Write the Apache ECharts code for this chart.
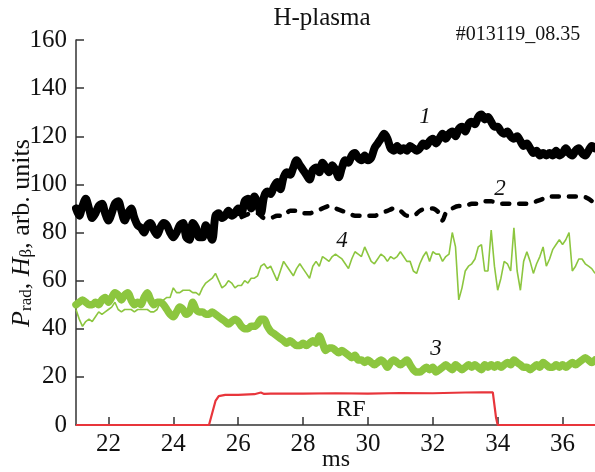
<!DOCTYPE html>
<html>
<head>
<meta charset="utf-8">
<script src="https://cdn.jsdelivr.net/npm/echarts@6/dist/echarts.min.js"></script>
<style>html,body{margin:0;padding:0;background:#fff}#c{width:595px;height:472px}</style>
</head>
<body>
<div id="c"></div>
<script>
// time samples (ms)
var t = [21.0,21.1,21.2,21.3,21.4,21.5,21.6,21.7,21.8,21.9,22.0,22.1,22.2,22.3,22.4,22.5,22.6,22.7,22.8,22.9,
23.0,23.1,23.2,23.3,23.4,23.5,23.6,23.7,23.8,23.9,24.0,24.1,24.2,24.3,24.4,24.5,24.6,24.7,24.8,24.9,
25.0,25.1,25.2,25.3,25.4,25.5,25.6,25.7,25.8,25.9,26.0,26.1,26.2,26.3,26.4,26.5,26.6,26.7,26.8,26.9,
27.0,27.1,27.2,27.3,27.4,27.5,27.6,27.7,27.8,27.9,28.0,28.1,28.2,28.3,28.4,28.5,28.6,28.7,28.8,28.9,
29.0,29.1,29.2,29.3,29.4,29.5,29.6,29.7,29.8,29.9,30.0,30.1,30.2,30.3,30.4,30.5,30.6,30.7,30.8,30.9,
31.0,31.1,31.2,31.3,31.4,31.5,31.6,31.7,31.8,31.9,32.0,32.1,32.2,32.3,32.4,32.5,32.6,32.7,32.8,32.9,
33.0,33.1,33.2,33.3,33.4,33.5,33.6,33.7,33.8,33.9,34.0,34.1,34.2,34.3,34.4,34.5,34.6,34.7,34.8,34.9,
35.0,35.1,35.2,35.3,35.4,35.5,35.6,35.7,35.8,35.9,36.0,36.1,36.2,36.3,36.4,36.5,36.6,36.7,36.8,36.9,37.0];

// curve 1 (black, thick)
var s1 = [90,87,91,94,90,86,88,91,92,88,85,88,92,93,89,85,88,90,86,83,
82,80,83,84,81,79,82,84,83,80,78,80,83,84,78,77,84,82,78,78,
83,80,77,87,88,86,87,89,87,88,90,88,93,94,90,95,92,88,95,97,
96,99,101,98,103,105,104,107,110,108,106,104,102,106,107,105,109,107,105,108,
106,103,107,110,109,112,113,111,110,112,110,111,115,117,119,121,119,115,114,116,
114,115,114,116,115,114,115,117,116,118,119,117,119,121,119,121,122,120,123,124,
122,125,126,125,128,129,127,128,126,124,124,122,121,122,120,119,120,118,116,117,
115,113,114,112,113,112,113,112,114,112,113,115,113,112,114,115,113,112,114,116,115];

// curve 2 (black, dashed)
var t2 = [25.6,25.8,26.0,26.2,26.4,26.6,26.8,27.0,27.2,27.4,27.6,27.8,28.0,28.2,28.4,28.6,28.8,29.0,29.2,29.4,
29.6,29.8,30.0,30.2,30.4,30.6,30.8,31.0,31.2,31.4,31.6,31.8,32.0,32.2,32.3,32.4,32.6,32.8,33.0,33.2,
33.4,33.6,33.8,34.0,34.2,34.4,34.6,34.8,35.0,35.2,35.4,35.6,35.8,36.0,36.2,36.4,36.6,36.8,37.0];
var s2 = [87,87,86,87,88,88,86,86,87,87,89,89,88,88,89,90,91,90,89,88,
87,87,87,87,88,89,90,89,87,87,89,90,90,88,85,88,90,91,91,92,
92,93,93,92,92,92,92,92,92,93,94,95,95,95,95,95,95,94,92];

// curve 3 (green, thick)
var s3 = [50,51,52,51,50,50,51,50,52,53,51,53,55,54,52,54,55,52,50,51,
50,53,55,52,50,51,51,50,48,46,45,47,49,48,46,47,51,48,47,47,
46,46,47,46,45,44,43,42,43,44,43,41,40,40,41,41,42,44,44,41,
39,38,37,36,35,34,35,34,33,33,34,33,34,35,34,37,34,31,32,32,
31,30,31,30,29,28,29,27,27,26,27,26,25,26,27,26,24,26,27,26,
25,26,27,25,23,22,22,23,24,23,24,22,23,24,25,24,23,25,24,23,
24,25,24,25,24,23,25,24,25,24,25,24,25,26,25,27,26,25,24,24,
23,24,25,24,26,25,24,24,25,24,25,24,25,26,25,26,27,28,27,26,27];

// curve 4 (green, thin)
var s4 = [48,44,41,43,44,43,45,47,46,47,48,49,51,48,47,48,48,48,47,48,
48,48,48,47,47,48,51,52,53,53,57,55,55,56,56,56,55,55,54,57,
59,60,61,63,60,57,58,60,59,57,58,58,60,59,61,61,62,66,67,65,
66,63,60,64,68,66,64,62,65,67,65,63,61,66,68,66,70,69,68,70,
71,70,69,67,65,69,72,71,70,74,71,68,67,69,71,70,68,70,69,70,
72,70,68,68,64,63,67,70,72,68,72,71,71,68,70,71,80,74,52,57,
64,66,67,69,74,75,64,64,81,66,56,61,68,67,64,82,64,56,68,72,
68,63,67,70,74,66,69,73,75,77,75,77,80,64,66,69,69,67,66,65,63];

// RF pulse (red)
var tRF = [21.0,25.1,25.2,25.3,25.4,25.6,26.0,26.5,26.7,26.8,27.0,28.0,29.0,30.0,31.0,32.0,33.0,33.5,33.85,33.95,34.0,37.0];
var sRF = [0,0,5,10,12,12.5,12.5,12.8,13.5,12.9,13,13,13.2,13,13.3,13.2,13.5,13.6,13.6,3,0,0];

// axis ticks
var xTicks = [22,24,26,28,30,32,34,36];
var yTicks = [0,20,40,60,80,100,120,140,160];

function pairs(xs, ys){ var out=[]; for(var i=0;i<ys.length;i++){ out.push([xs[i], ys[i]]); } return out; }

var FONT = '"Liberation Serif","Times New Roman",serif';
var GREEN = '#8cc63f';

var chart = echarts.init(document.getElementById('c'), null, {renderer:'canvas'});
chart.setOption({
  animation:false,
  backgroundColor:'#fff',
  grid:{left:76, right:0, top:40, bottom:47},
  xAxis:{
    type:'value', min:21, max:37,
    axisLine:{show:true, onZero:false, lineStyle:{color:'#333', width:1.5}},
    axisTick:{show:true, inside:true, length:8, customValues:xTicks, lineStyle:{color:'#333', width:1.5}},
    axisLabel:{customValues:xTicks, color:'#111', fontFamily:FONT, fontSize:25, margin:7},
    splitLine:{show:false}
  },
  yAxis:{
    type:'value', min:0, max:160, interval:20,
    axisLine:{show:true, lineStyle:{color:'#333', width:1.5}},
    axisTick:{show:true, inside:true, length:8, customValues:yTicks, lineStyle:{color:'#333', width:1.5}},
    axisLabel:{customValues:yTicks, color:'#111', fontFamily:FONT, fontSize:25, margin:9},
    splitLine:{show:false}
  },
  series:[
    {type:'line', name:'4', data:pairs(t, s4), showSymbol:false, symbol:'none', lineStyle:{color:GREEN, width:1.6}, z:2},
    {type:'line', name:'3', data:pairs(t, s3), showSymbol:false, symbol:'none', smooth:0.3, lineStyle:{color:GREEN, width:7.5, cap:'round', join:'round'}, z:3},
    {type:'line', name:'RF', data:pairs(tRF, sRF), showSymbol:false, symbol:'none', lineStyle:{color:'#e8353b', width:2.2}, z:3},
    {type:'line', name:'2', data:pairs(t2, s2), showSymbol:false, symbol:'none', smooth:0.3, lineStyle:{color:'#000', width:4.5, type:[7,10], cap:'round', join:'round'}, z:4},
    {type:'line', name:'1', data:pairs(t, s1), showSymbol:false, symbol:'none', smooth:0.3, lineStyle:{color:'#000', width:8, cap:'round', join:'round'}, z:5}
  ],
  graphic:[
    {type:'text', x:322, y:18, style:{text:'H-plasma', font:'25px '+FONT, fill:'#111', align:'center', verticalAlign:'middle'}},
    {type:'text', x:518, y:35, style:{text:'#013119_08.35', font:'20px '+FONT, fill:'#111', align:'center', verticalAlign:'middle'}},
    {type:'text', x:336, y:460, style:{text:'ms', font:'24px '+FONT, fill:'#111', align:'center', verticalAlign:'middle'}},
    {type:'text', x:351, y:410, style:{text:'RF', font:'24px '+FONT, fill:'#111', align:'center', verticalAlign:'middle'}},
    {type:'text', x:425, y:117, style:{text:'1', font:'italic 23px '+FONT, fill:'#111', align:'center', verticalAlign:'middle'}},
    {type:'text', x:500, y:189, style:{text:'2', font:'italic 23px '+FONT, fill:'#111', align:'center', verticalAlign:'middle'}},
    {type:'text', x:342, y:241, style:{text:'4', font:'italic 23px '+FONT, fill:'#111', align:'center', verticalAlign:'middle'}},
    {type:'text', x:436, y:349, style:{text:'3', font:'italic 23px '+FONT, fill:'#111', align:'center', verticalAlign:'middle'}},
    {type:'text', x:22, y:233, rotation:Math.PI/2, style:{
      text:'{i|P}{s|rad}{n|, }{i|H}{s|β}{n|, arb. units}',
      align:'center', verticalAlign:'middle', fill:'#111',
      rich:{
        i:{fontFamily:FONT, fontSize:26, fontStyle:'italic', lineHeight:26, fill:'#111'},
        n:{fontFamily:FONT, fontSize:26, lineHeight:26, fill:'#111'},
        s:{fontFamily:FONT, fontSize:17, lineHeight:10, verticalAlign:'bottom', fill:'#111'}
      }
    }}
  ]
});
</script>
</body>
</html>
